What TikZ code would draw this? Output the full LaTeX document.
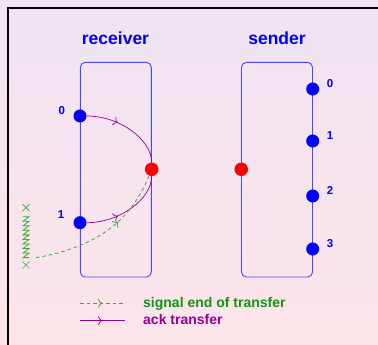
\documentclass[tikz,border=0pt]{standalone}
\usepackage{fontspec}
\setsansfont{Liberation Sans}
\usetikzlibrary{arrows.meta,decorations.markings,positioning}

\definecolor{bgtop}{RGB}{239,228,243}
\definecolor{bgbot}{RGB}{252,228,233}
\definecolor{bufblue}{RGB}{0,0,255}
\definecolor{boxblue}{RGB}{70,70,255}
\definecolor{ackpurple}{RGB}{153,0,153}
\definecolor{sigtext}{RGB}{17,150,17}
\definecolor{sigline}{RGB}{60,170,60}

\tikzset{
  proc/.style={draw=boxblue,line width=0.9pt,rounded corners=5pt,
    minimum width=71pt,minimum height=214.7pt,inner sep=0pt},
  buf/.style={circle,fill=bufblue,minimum size=13pt,inner sep=0pt},
  hold/.style={circle,fill=red,minimum size=13.5pt,inner sep=0pt},
  title/.style={text=bufblue,font=\sffamily\bfseries\fontsize{17.5}{20}\selectfont,anchor=base},
  num/.style={text=bufblue,font=\sffamily\bfseries\fontsize{11.5}{13}\selectfont,anchor=base},
  legend/.style={font=\sffamily\bfseries\fontsize{14}{16}\selectfont,anchor=base west,inner sep=0pt},
  midarrow/.style={postaction={decorate},decoration={markings,
    mark=at position #1 with {\arrow{To[length=4.5pt,width=9pt]}}}},
  midarrow/.default=0.5,
  ack/.style={ackpurple,line width=0.7pt},
  signal/.style={sigline,line width=0.8pt,dash pattern=on 3.5pt off 3pt},
}

\begin{document}
\begin{tikzpicture}[x=1pt,y=1pt]
\shade[top color=bgtop,bottom color=bgbot] (0,0) rectangle (378,345);
\useasboundingbox (0,0) rectangle (378,345);
\draw[line width=1.5pt] (8,0) -- (8,337) -- (378,337);

% the two processes
\node[title] (rtitle) at (115.5,300.7) {receiver};
\node[title] (stitle) at (277,300.7) {sender};
\node[proc] (recv) at (115.8,175.3) {};
\node[proc] (send) at (277,175.3) {};

% receiver buffers and the hold point
\node[buf] (r0) at (80,229) {};
\node[buf] (r1) at (80,122.3) {};
\node[hold] (rh) at (151.7,175.7) {};
\node[num] at (61.7,230) {0};
\node[num] at (61,126.5) {1};

% sender buffers
\node[hold] (sh) at (241.3,175.7) {};
\foreach \i/\y in {0/256,1/204,2/149,3/96}{
  \node[buf] (s\i) at (312.7,\y) {};
  \node[num] at (330,\y+1.5) {\i};
}

% acks going back to the hold point
\draw[ack,midarrow=0.37] (r0) .. controls +(40,0) and +(0,29.5) .. (rh);
\draw[ack,midarrow=0.37] (r1) .. controls +(40,0) and +(0,-29.5) .. (rh);

% end of transfer signal from the broken line
\coordinate (xtop) at (26,137.3);
\coordinate (xbot) at (26,80);
\coordinate (zend) at (36,87.3);
\draw[sigline,line width=0.7pt] (xtop) ++(-3.5,-3.5) -- ++(7,7) ++(-7,0) -- ++(7,-7);
\draw[sigline,line width=0.7pt] (xbot) ++(-3.5,-3.5) -- ++(7,7) ++(-7,0) -- ++(7,-7);
\draw[sigline,line width=0.8pt] (23,128.3)
  \foreach \k in {0,...,8}{ -- ++(6,0) -- ++(-6,-4.55) } -- ++(6,0);
\draw[signal,midarrow=0.62] (zend) to[out=10,in=248] (rh);

% legend
\coordinate (l1a) at (80,41.7);
\coordinate (l1b) at (125,41.7);
\coordinate (l2a) at (80,24.3);
\coordinate (l2b) at (125,24.3);
\draw[signal,midarrow] (l1a) -- (l1b);
\draw[ack,midarrow] (l2a) -- (l2b);
\node[legend,text=sigtext] at (143,37) {signal end of transfer};
\node[legend,text=ackpurple] at (143,20.5) {ack transfer};
\end{tikzpicture}
\end{document}
